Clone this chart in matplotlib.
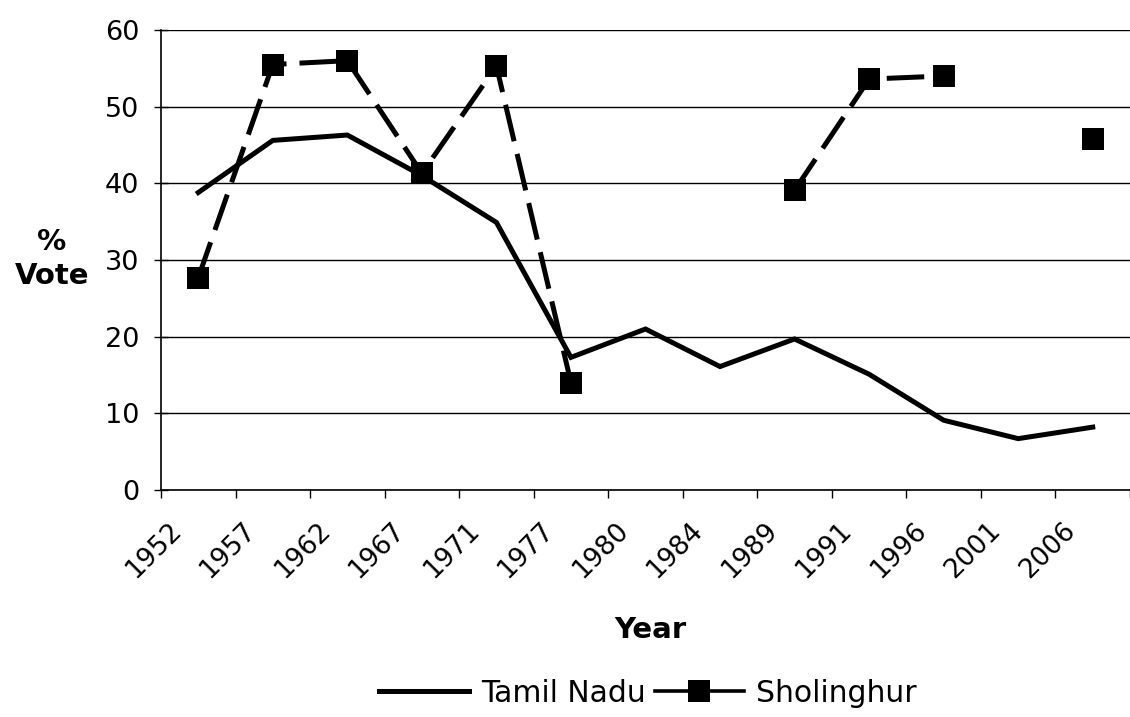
import matplotlib.pyplot as plt
import matplotlib.transforms as mtransforms
from matplotlib.lines import Line2D
import numpy as np

# Data
years = ["1952", "1957", "1962", "1967", "1971", "1977", "1980",
         "1984", "1989", "1991", "1996", "2001", "2006"]

tamil_nadu = [38.8, 45.6, 46.3, 41.0, 34.9, 17.3, 21.0,
              16.1, 19.7, 15.1, 9.1, 6.7, 8.2]

sholinghur = [27.7, 55.5, 56.0, 41.3, 55.3, 14.0, np.nan,
              np.nan, 39.1, 53.6, 54.0, np.nan, 45.8]

x = np.arange(len(years))

fig = plt.figure(figsize=(11.3, 7.17), dpi=100)
ax = fig.add_axes([161 / 1130, 1 - 490 / 717, (1130 - 161) / 1130, 460 / 717])

ax.plot(x, tamil_nadu, color='black', lw=3.6, solid_joinstyle='miter', zorder=3)
ax.plot(x, sholinghur, color='black', lw=3.6, dashes=(7.5, 2.6),
        marker='s', markersize=15.6, markeredgewidth=0, zorder=4)

# Axes formatting
ax.set_ylim(0, 60)
ax.set_yticks(np.arange(0, 61, 10))
ax.set_xlim(-0.5, (1130 - 161) / 75.2 - 0.5)
ax.set_xticks(x)
ax.set_xticklabels(years, rotation=45, ha='right', fontsize=19)
ax.set_xticks(np.arange(-0.5, len(years), 1.0), minor=True)
ax.tick_params(axis='x', which='major', length=0, pad=20)
ax.tick_params(axis='x', which='minor', length=6, width=1, color='black', direction='out')
ax.tick_params(axis='y', labelsize=19.5, length=9.5, width=1, direction='inout', pad=11)

offset = mtransforms.ScaledTranslation(-12 / 100, 0, fig.dpi_scale_trans)
for lbl in ax.get_xticklabels():
    lbl.set_transform(lbl.get_transform() + offset)

ax.grid(axis='y', color='black', lw=1)
ax.set_axisbelow(True)
for s in ['top', 'right']:
    ax.spines[s].set_visible(False)
ax.spines['left'].set_linewidth(1.2)
ax.spines['bottom'].set_linewidth(1.2)

fig.text(52 / 1130, 1 - 259 / 717, "%\nVote", ha='center', va='center',
         fontsize=21, fontweight='bold', linespacing=1.3)
fig.text(650 / 1130, 1 - 630 / 717, "Year", ha='center', va='center',
         fontsize=21, fontweight='bold')

handles = [Line2D([], [], color='black', lw=3.6),
           Line2D([], [], color='black', lw=2.6, marker='s', markersize=15.6,
                  markeredgewidth=0)]
fig.legend(handles, ["Tamil Nadu", "Sholinghur"], loc='center',
           bbox_to_anchor=(648 / 1130, 1 - 693 / 717), ncol=2, frameon=False,
           fontsize=21.5, handlelength=3.0, handletextpad=0.4, columnspacing=0.3)

plt.savefig('out.png', dpi=100)
